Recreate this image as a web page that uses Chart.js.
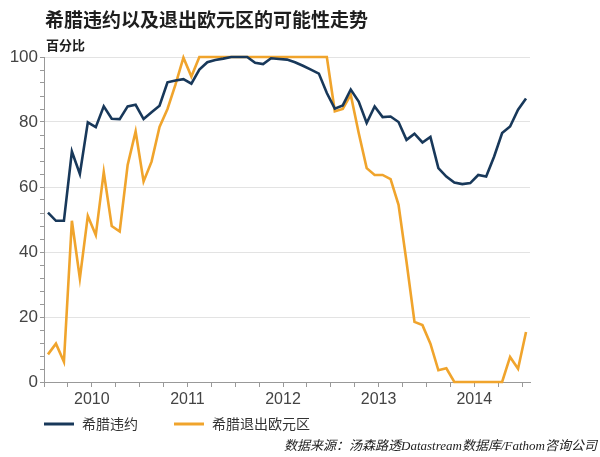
<!DOCTYPE html>
<html>
<head>
<meta charset="utf-8">
<script src="https://cdn.jsdelivr.net/npm/chart.js@4"></script>
<style>
    html, body { margin: 0; padding: 0; background: #fff; }
    #wrap { width: 600px; height: 457px; }
</style>
</head>
<body>
<div id="wrap"><canvas id="chart" width="600" height="457"></canvas></div>
<script>
// monthly readings, Jan 2010 .. Jan 2015
const yearLabels = ['2010', '2011', '2012', '2013', '2014'];
const defaultProb = [
    52.1, 49.6, 49.6, 70.9, 64.0, 79.9, 78.4, 84.8, 81.0, 80.9, 84.8, 85.3,
    80.9, 83.0, 85.0, 92.2, 92.8, 93.2, 91.8, 96.1, 98.4, 99.1, 99.5, 100,
    100, 100, 98.2, 97.8, 99.6, 99.4, 99.2, 98.4, 97.3, 96.1, 94.9, 88.9,
    84.1, 85.1, 90.0, 86.3, 79.7, 84.8, 81.5, 81.7, 80.0, 74.5, 76.4, 73.7,
    75.4, 65.8, 63.2, 61.4, 60.9, 61.2, 63.7, 63.2, 69.4, 76.6, 78.6, 83.8,
    87.2
];
const exitProb = [
    8.5, 11.8, 6.2, 49.6, 31.9, 51.1, 45.2, 64.6, 48.0, 46.3, 66.8, 77.1,
    61.7, 67.8, 78.5, 84.0, 91.5, 99.8, 94.0, 100, 100, 100, 100, 100,
    100, 100, 100, 100, 100, 100, 100, 100, 100, 100, 100, 100,
    83.3, 84.0, 88.4, 76.6, 65.8, 63.7, 63.7, 62.4, 54.5, 37.0, 18.5, 17.5,
    11.8, 3.6, 4.2, 0, 0, 0, 0, 0, 0, 0, 7.7, 4.1,
    15.4
];
const seriesNames = ['希腊违约', '希腊退出欧元区'];

const toPoints = arr => arr.map((v, i) => ({ x: i + 0.5, y: v }));

const textPlugin = {
    id: 'texts',
    beforeDraw(chart) {
        const c = chart.ctx;
        c.save();
        c.fillStyle = '#fff';
        c.fillRect(0, 0, chart.width, chart.height);
        c.restore();
    },
    afterDraw(chart) {
        const c = chart.ctx;
        c.save();
        c.fillStyle = '#1e1e1e';
        c.textBaseline = 'alphabetic';
        c.font = 'bold 19px "Noto Sans CJK SC"';
        c.fillText('希腊违约以及退出欧元区的可能性走势', 45, 27);
        c.font = 'bold 13px "Noto Sans CJK SC"';
        c.fillText('百分比', 46, 50);

        // legend
        c.font = '14px "Noto Sans CJK SC"';
        c.textBaseline = 'middle';
        let x = 44;
        const y = 424;
        chart.data.datasets.forEach(ds => {
            c.strokeStyle = ds.borderColor;
            c.lineWidth = 3;
            c.beginPath();
            c.moveTo(x, y);
            c.lineTo(x + 30, y);
            c.stroke();
            c.fillStyle = '#333';
            c.fillText(ds.label, x + 38, y);
            x += 38 + c.measureText(ds.label).width + 36;
        });

        c.font = 'italic 13px "Liberation Serif", "Noto Sans CJK SC"';
        c.textAlign = 'right';
        c.textBaseline = 'alphabetic';
        c.fillStyle = '#222';
        c.fillText('数据来源：汤森路透Datastream数据库/Fathom咨询公司', 597, 450);
        c.restore();
    }
};

new Chart(document.getElementById('chart'), {
    type: 'line',
    data: {
        datasets: [
            {
                label: seriesNames[0],
                data: toPoints(defaultProb),
                borderColor: '#18385a',
                borderWidth: 2.6,
                pointRadius: 0,
                tension: 0,
                clip: 4
            },
            {
                label: seriesNames[1],
                data: toPoints(exitProb),
                borderColor: '#f0a42c',
                borderWidth: 2.6,
                pointRadius: 0,
                tension: 0,
                clip: 4
            }
        ]
    },
    options: {
        responsive: false,
        animation: false,
        layout: { padding: { top: 57, right: 70, bottom: 48, left: 0 } },
        plugins: {
            legend: { display: false },
            tooltip: { enabled: false }
        },
        scales: {
            x: {
                type: 'linear',
                min: 0,
                max: 61,
                afterBuildTicks: scale => {
                    const t = [];
                    for (let m = 0; m <= 60; m += 3) t.push({ value: m });
                    scale.ticks = t;
                },
                afterFit: scale => { scale.height = 27; },
                ticks: {
                    autoSkip: false,
                    maxRotation: 0,
                    minRotation: 0,
                    padding: 3,
                    color: '#444',
                    font: { family: '"Liberation Sans", Arial', size: 16 },
                    callback: v => (v % 12 === 6 ? yearLabels[(v - 6) / 12] : '')
                },
                grid: { drawOnChartArea: false, tickLength: 5, tickColor: '#999' },
                border: { color: '#999' }
            },
            y: {
                min: 0,
                max: 100,
                afterBuildTicks: scale => {
                    const t = [];
                    for (let v = 0; v <= 100; v += 4) t.push({ value: v });
                    scale.ticks = t;
                },
                afterFit: scale => { scale.width = 44; },
                ticks: {
                    autoSkip: false,
                    padding: 2,
                    color: '#444',
                    font: { family: '"Liberation Sans", Arial', size: 17 },
                    callback: v => (v % 20 === 0 ? v : '')
                },
                grid: {
                    tickLength: 4,
                    tickColor: '#999',
                    color: ctx => (ctx.tick && ctx.tick.value % 20 === 0 && ctx.tick.value > 0 ? '#e3e3e3' : 'rgba(0,0,0,0)')
                },
                border: { color: '#999' }
            }
        }
    },
    plugins: [textPlugin]
});
</script>
</body>
</html>
